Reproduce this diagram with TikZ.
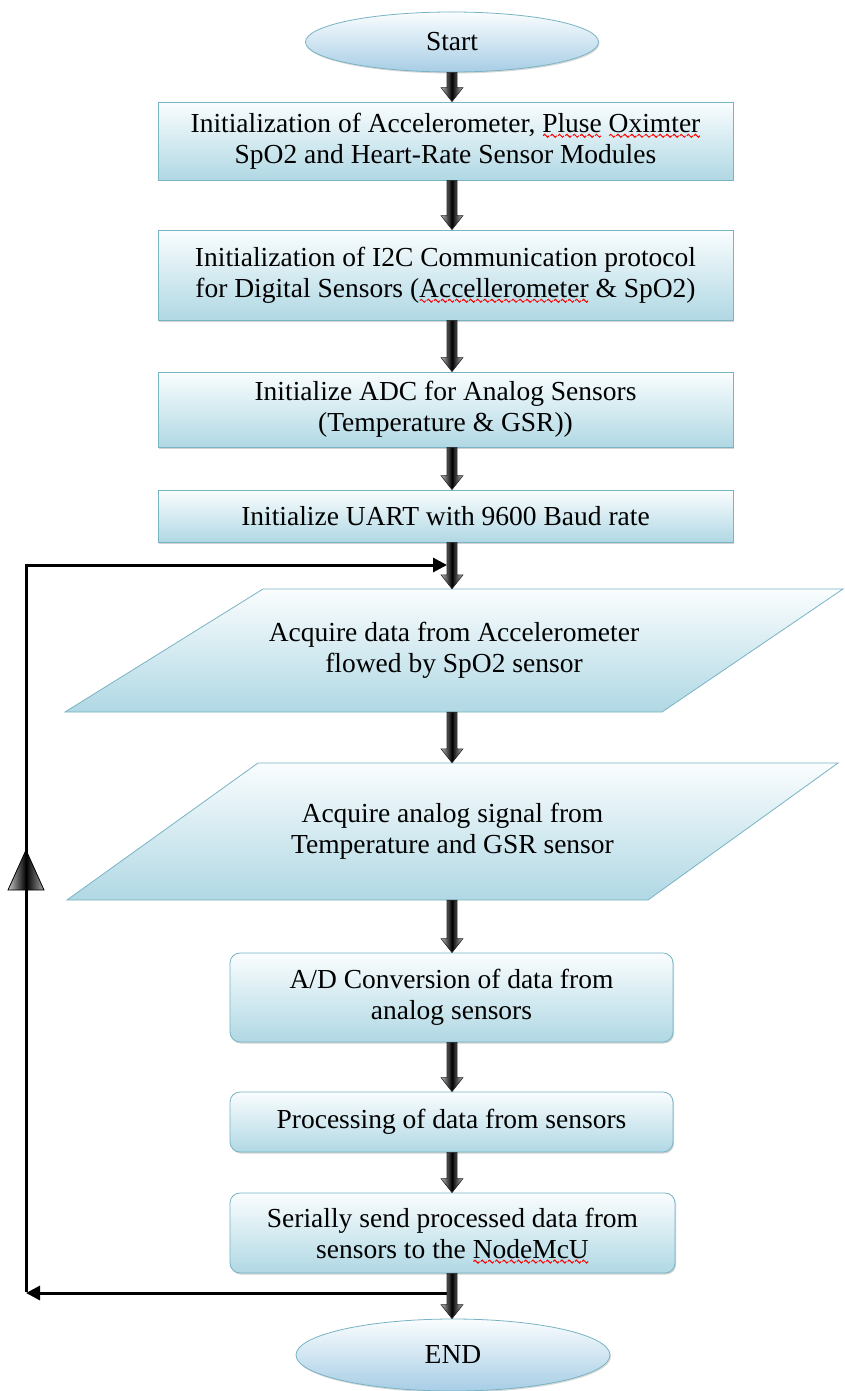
\documentclass[tikz,border=0pt]{standalone}
\usepackage{fontspec}
\setmainfont{Liberation Serif}
\usetikzlibrary{arrows.meta,calc,shapes.geometric,shadows}
\definecolor{boxtop}{RGB}{250,253,254}
\definecolor{boxbot}{RGB}{176,216,228}
\definecolor{boxline}{RGB}{120,180,196}
\newsavebox\wavetile
\newcommand\redwave[1]{\setbox0\hbox{#1}\rlap{\raisebox{-5.5pt}[0pt][0pt]{\hbox to \wd0{\xleaders\copy\wavetile\hfil}}}\box0\relax}
\tikzset{
  txt/.style={font=\fontsize{27.5}{31}\selectfont, align=center, inner sep=0pt},
  box/.style={txt, rectangle, draw=boxline, line width=0.8pt, top color=boxtop, bottom color=boxbot,
    drop shadow={shadow xshift=1pt, shadow yshift=-1.5pt, opacity=0.35}},
  rbox/.style={box, rounded corners=10pt},
  term/.style={txt, ellipse, draw=boxline, line width=0.8pt, top color=boxtop, bottom color=boxbot!95!blue,
    drop shadow={shadow xshift=1pt, shadow yshift=-1.5pt, opacity=0.3}},
  pshape/.style={draw=boxline, line width=0.8pt, top color=boxtop, bottom color=boxbot},
  ptext/.style={txt, draw=none},
  loopline/.style={line width=3pt, black},
  blk/.style={left color=gray!55, right color=gray!55, middle color=black, draw=black!85, line width=0.6pt},
  trimark/.style={left color=gray!45, right color=gray!70, middle color=black, draw=black, line width=0.8pt},
}
\newcommand\barr[2]{%
  \path[blk] let \p1=(#1), \p2=(#2) in
    (\x1-5pt,\y1) -- (\x1-5pt,\y2+14pt) -- (\x1-11pt,\y2+14pt) -- (\x1,\y2)
    -- (\x1+11pt,\y2+14pt) -- (\x1+5pt,\y2+14pt) -- (\x1+5pt,\y1) -- cycle;}
\begin{document}
\sbox\wavetile{\begin{pgfpicture}\pgfsetlinewidth{1pt}\pgfsetstrokecolor{red}%
  \pgfpathmoveto{\pgfpointorigin}%
  \pgfpathsine{\pgfpoint{1.5pt}{1.5pt}}\pgfpathcosine{\pgfpoint{1.5pt}{-1.5pt}}%
  \pgfpathsine{\pgfpoint{1.5pt}{-1.5pt}}\pgfpathcosine{\pgfpoint{1.5pt}{1.5pt}}%
  \pgfusepath{stroke}\end{pgfpicture}}%
\begin{tikzpicture}[x=1pt,y=-1pt]
\useasboundingbox[fill=white] (0,0) rectangle (845,1391);

% terminals and process boxes
\node[term, minimum width=293pt, minimum height=60pt] (start) at (452,42) {Start};
\node[box, minimum width=575pt, minimum height=78pt] (b1) at (445.5,141)
  {Initialization of Accelerometer, \redwave{Pluse} \redwave{Oximter}\\SpO2 and Heart-Rate Sensor Modules};
\node[box, minimum width=575pt, minimum height=90pt] (b2) at (445.5,275)
  {Initialization of I2C Communication protocol\\for Digital Sensors (\redwave{Accellerometer} \& SpO2)};
\node[box, minimum width=575pt, minimum height=75pt] (b3) at (445.5,409.5)
  {Initialize ADC for Analog Sensors\\(Temperature \& GSR))};
\node[box, minimum width=575pt, minimum height=52pt] (b4) at (445.5,516)
  {Initialize UART with 9600 Baud rate};

% parallelograms
\path[pshape] (263,589) -- (843,589) -- (662,712) -- (65,712) -- cycle;
\node[ptext, minimum width=778pt, minimum height=123pt] (p1) at (454,650.5)
  {Acquire data from Accelerometer\\flowed by SpO2 sensor};
\path[pshape] (258,763) -- (838,763) -- (648,900) -- (67,900) -- cycle;
\node[ptext, minimum width=771pt, minimum height=137pt] (p2) at (452.5,831.5)
  {Acquire analog signal from\\Temperature and GSR sensor};

\node[rbox, minimum width=443pt, minimum height=89pt] (b5) at (451.5,997.5)
  {A/D Conversion of data from\\analog sensors};
\node[rbox, minimum width=443pt, minimum height=60pt] (b6) at (451.5,1122)
  {Processing of data from sensors};
\node[rbox, minimum width=445pt, minimum height=80pt] (b7) at (452.5,1233)
  {Serially send processed data from\\sensors to the \redwave{NodeMcU}};
\node[term, minimum width=314pt, minimum height=72pt] (fin) at (453,1355) {END};

% loop back
\coordinate (jb) at (452,1293);
\coordinate (lb) at (26,1293);
\coordinate (lt) at (26,565);
\coordinate (jt) at (447,565);
\draw[loopline, -{Triangle[length=14pt,width=14pt]}] (jb) -- (lb);
\draw[loopline, line join=miter, -{Triangle[length=14pt,width=14pt]}] ([yshift=1.5pt]lb) -- (lt) -- (jt);
\path[trimark] (8,890) -- (26,850) -- (44,890) -- cycle;

% block arrows
\barr{start.south}{b1.north -| start}
\barr{b1.south -| start}{b2.north -| start}
\barr{b2.south -| start}{b3.north -| start}
\barr{b3.south -| start}{b4.north -| start}
\barr{b4.south -| start}{p1.north -| start}
\barr{p1.south -| start}{p2.north -| start}
\barr{p2.south -| start}{b5.north -| start}
\barr{b5.south -| start}{b6.north -| start}
\barr{b6.south -| start}{b7.north -| start}
\barr{b7.south -| start}{fin.north -| start}
\end{tikzpicture}
\end{document}
